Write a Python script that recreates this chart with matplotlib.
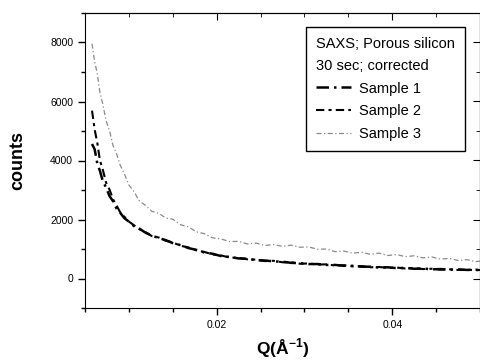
import matplotlib
matplotlib.use("Agg")
from matplotlib import pyplot as plt
from matplotlib.ticker import MultipleLocator

plt.rcParams['font.family'] = ['Liberation Sans', 'DejaVu Sans']
plt.rcParams['mathtext.fontset'] = 'custom'
plt.rcParams['mathtext.rm'] = 'Liberation Sans'
plt.rcParams['mathtext.bf'] = 'Liberation Sans:bold'

# scattering vector Q (1/angstrom)
q = [0.0058, 0.0061, 0.0064, 0.0067, 0.0070, 0.0074, 0.0078, 0.0082, 0.0086, 0.0090,
     0.0095, 0.0100, 0.0106, 0.0112, 0.0119, 0.0126, 0.0134, 0.0142, 0.0150, 0.0159,
     0.0168, 0.0177, 0.0186, 0.0195, 0.0205, 0.0215, 0.0225, 0.0235, 0.0245, 0.0255,
     0.0265, 0.0275, 0.0285, 0.0295, 0.0305, 0.0315, 0.0325, 0.0335, 0.0345, 0.0355,
     0.0365, 0.0375, 0.0385, 0.0395, 0.0405, 0.0415, 0.0425, 0.0435, 0.0445, 0.0455,
     0.0465, 0.0475, 0.0485, 0.0495, 0.0500]

sample1 = [4560, 4380, 3900, 3650, 3330, 3080, 2790, 2620, 2370, 2230,
           2040, 1930, 1770, 1690, 1550, 1460, 1370, 1300, 1200, 1130,
           1030, 970, 880, 840, 760, 730, 680, 670, 620, 610,
           580, 570, 530, 520, 490, 490, 460, 460, 430, 430,
           400, 400, 370, 380, 350, 360, 330, 340, 310, 320,
           300, 310, 290, 300, 280]

sample2 = [5690, 5050, 4600, 4000, 3720, 3250, 3010, 2680, 2470, 2250,
           2090, 1930, 1800, 1670, 1570, 1440, 1390, 1280, 1220, 1110,
           1050, 950, 900, 820, 780, 710, 700, 650, 640, 590,
           600, 550, 550, 500, 510, 470, 480, 440, 450, 410,
           420, 380, 390, 360, 370, 340, 350, 320, 330, 300,
           310, 290, 300, 280, 290]

sample3 = [7960, 7350, 6950, 6300, 5950, 5350, 5000, 4500, 4230, 3850,
           3540, 3170, 2940, 2620, 2480, 2280, 2210, 2050, 2010, 1820,
           1750, 1580, 1520, 1380, 1340, 1250, 1260, 1170, 1200, 1120,
           1150, 1090, 1130, 1060, 1070, 990, 1000, 910, 930, 860,
           890, 820, 860, 780, 810, 740, 770, 700, 730, 660,
           680, 610, 640, 570, 590]

fig = plt.figure(figsize=(4.81, 3.64), dpi=100)
ax = fig.add_axes([85 / 481, 56 / 364, 395 / 481, 295 / 364])

ax.plot(q, sample1, color='black', linestyle=(0, (5, 2, 1, 2)), linewidth=1.8, label='Sample 1')
ax.plot(q, sample2, color='black', linestyle=(0, (4, 2, 1.5, 2)), linewidth=1.5, label='Sample 2')
ax.plot(q, sample3, color='#8a8a8a', linestyle=(0, (4, 2, 1, 2)), linewidth=0.9, label='Sample 3')

ax.set_xlim(0.005, 0.05)
ax.set_ylim(-1000, 9000)
ax.set_xticks([0.02, 0.04])
ax.set_xticklabels(['0.02', '0.04'])
ax.xaxis.set_minor_locator(MultipleLocator(0.005))
ax.set_yticks([0, 2000, 4000, 6000, 8000])
ax.yaxis.set_minor_locator(MultipleLocator(1000))
ax.tick_params(which='both', direction='out', labelsize=7.5, width=1)
ax.tick_params(which='major', length=5)
ax.tick_params(which='minor', length=3)

top = ax.secondary_xaxis('top')
top.set_xticks([0.02, 0.04])
top.xaxis.set_minor_locator(MultipleLocator(0.005))
top.tick_params(axis='x', which='both', direction='in', labeltop=False)
top.tick_params(which='major', length=5)
top.tick_params(which='minor', length=3)

right = ax.secondary_yaxis('right')
right.set_yticks([0, 2000, 4000, 6000, 8000])
right.yaxis.set_minor_locator(MultipleLocator(1000))
right.tick_params(axis='y', which='both', direction='in', labelright=False)
right.tick_params(which='major', length=5)
right.tick_params(which='minor', length=3)

ax.set_ylabel('counts', fontsize=13, fontweight='bold', labelpad=17)
ax.set_xlabel(r'Q(Å$^{\mathbf{-1}}$)', fontsize=12.5, fontweight='bold', labelpad=5)

leg = ax.legend(title='SAXS; Porous silicon\n30 sec; corrected', loc='upper left',
                bbox_to_anchor=(0.56, 0.953), borderaxespad=0, fontsize=10.5,
                title_fontsize=10.5, handlelength=2.4, handletextpad=0.5,
                labelspacing=0.6, borderpad=0.7, fancybox=False, framealpha=1,
                edgecolor='black')
leg._legend_box.align = 'left'
leg.get_title().set_linespacing(1.7)
leg.get_frame().set_linewidth(1.0)

fig.savefig('out.png', dpi=100)
